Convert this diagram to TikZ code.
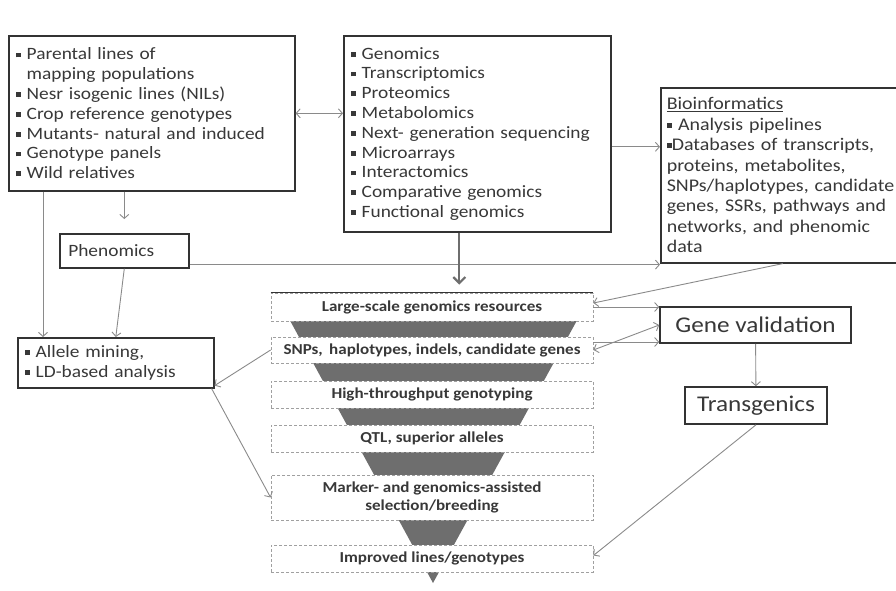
\documentclass[tikz,border=0pt]{standalone}
\usepackage{fontspec}
\setmainfont{Carlito}[FakeStretch=1.12]
\usetikzlibrary{arrows.meta,positioning,calc}
\definecolor{ink}{HTML}{333333}
\definecolor{txt}{HTML}{383838}
\definecolor{wire}{HTML}{8A8A8A}
\definecolor{funnel}{HTML}{6E6E6E}
\definecolor{layerline}{HTML}{A0A0A0}
\tikzset{
  listbox/.style={draw=ink,line width=1.6pt,fill=white,align=left,text=txt,inner xsep=7pt,
    font=\fontsize{17.3}{19.8}\selectfont,anchor=north west},
  plainbox/.style={draw=ink,line width=1.6pt,fill=white,text=txt},
  layer/.style={draw=layerline,densely dashed,line width=0.8pt,fill=white,text=txt,
    minimum width=322pt,align=center,font=\fontsize{15.2}{18}\selectfont\bfseries},
  arr/.style={-{Straight Barb[length=4pt,width=9pt]},draw=wire,line width=0.9pt},
  dbl/.style={{Straight Barb[length=4pt,width=9pt]}-{Straight Barb[length=4pt,width=9pt]},draw=wire,line width=0.9pt},
  fat/.style={-{Straight Barb[length=6pt,width=12pt]},draw=wire!80!black,line width=2.2pt}
}
\newcommand{\itm}{\rule[0.3ex]{0.28em}{0.28em}\hspace{0.35em}}

\begin{document}
\begin{tikzpicture}[x=1pt,y=-1pt]
  \useasboundingbox (0,0) rectangle (896,591);

  % source boxes
  \node[listbox,text width=272pt,minimum height=155pt] (parents) at (8,35)
    {\itm Parental lines of\\\hspace{0.63em}mapping populations\\\itm Nesr isogenic lines (NILs)\\
     \itm Crop reference genotypes\\\itm Mutants- natural and induced\\\itm Genotype panels\\\itm Wild relatives};
  \node[listbox,text width=253pt,minimum height=196pt] (omics) at (343,35)
    {\itm Genomics\\\itm Transcriptomics\\\itm Proteomics\\\itm Metabolomics\\\itm Next- generation sequencing\\
     \itm Microarrays\\\itm Interactomics\\\itm Comparative genomics\\\itm Functional genomics};
  \node[listbox,text width=232pt,inner xsep=6pt,minimum height=175pt,font=\fontsize{17.8}{20.4}\selectfont] (bioinfo) at (660,87)
    {\underline{Bioinformatics}\\\itm Analysis pipelines\\\rule[0.3ex]{0.28em}{0.28em}Databases of transcripts,\\
     proteins, metabolites,\\SNPs/haplotypes, candidate\\genes, SSRs, pathways and\\networks, and phenomic\\data};
  \node[plainbox,anchor=north west,minimum width=129pt,minimum height=34pt,text width=112pt,align=left,
    font=\fontsize{17.3}{19}\selectfont] (pheno) at (59,233) {Phenomics};
  \node[listbox,text width=182pt,minimum height=50pt] (allele) at (17,337)
    {\itm Allele mining,\\\itm LD-based analysis};

  % funnel
  \fill[funnel] (275,293) -- (592,293) -- (433,583) -- cycle;
  \node[layer,minimum height=28pt] (large) at (432,307) {Large-scale genomics resources};
  \draw[ink,line width=1.2pt] (large.north west) -- (large.north east);
  \node[layer,minimum height=26pt] (snp) at (432,350) {SNPs,\, haplotypes, indels, candidate genes};
  \node[layer,minimum height=27pt] (htp) at (432,394.5) {High-throughput genotyping};
  \node[layer,minimum height=27pt] (qtl) at (432,438.5) {QTL, superior alleles};
  \node[layer,minimum height=45pt] (mabs) at (432,497.5) {Marker- and genomics-assisted\\selection/breeding};
  \node[layer,minimum height=27pt] (improved) at (432,558.5) {Improved lines/genotypes};

  % validation
  \node[plainbox,minimum width=191pt,minimum height=36pt,font=\fontsize{22.5}{25}\selectfont] (geneval) at (755.5,325) {Gene validation};
  \node[plainbox,minimum width=142pt,minimum height=37pt,font=\fontsize{22.5}{25}\selectfont] (transg) at (756,405.5) {Transgenics};

  % connectors
  \draw[dbl] (parents.east) -- (parents.east -| omics.west);
  \draw[arr] ([yshift=-13pt]omics.east) -- ([yshift=-13pt]omics.east -| bioinfo.west);
  \draw[arr,shorten >=14pt] (parents.south -| pheno.north) -- (pheno.north);
  \draw[arr] ([xshift=26pt]allele.north west |- parents.south) -- ([xshift=26pt]allele.north west);
  \draw[arr] (pheno.south) -- (allele.north);
  \draw[arr] ([yshift=4pt]pheno.south east) -- ([yshift=4pt]pheno.south east -| bioinfo.west);
  \draw[fat,shorten >=8pt] ([xshift=-18pt]omics.south) -- ([xshift=-18pt]omics.south |- large.north);
  \draw[arr] (bioinfo.south) -- ([yshift=4pt]large.east);
  \draw[arr] (large.east) -- (large.east -| geneval.west);
  \draw[dbl] (snp.east) -- (geneval.west);
  \draw[arr] ([yshift=8pt]snp.east) -- ([yshift=8pt]snp.east -| geneval.west);
  \draw[arr] (snp.west) -- ([yshift=3pt]allele.south east);
  \draw[arr] ([xshift=-3pt]allele.south east) -- (mabs.west);
  \draw[arr] (geneval) -- (transg);
  \draw[arr] (transg.south) -- ([yshift=3pt]improved.east);
\end{tikzpicture}
\end{document}
